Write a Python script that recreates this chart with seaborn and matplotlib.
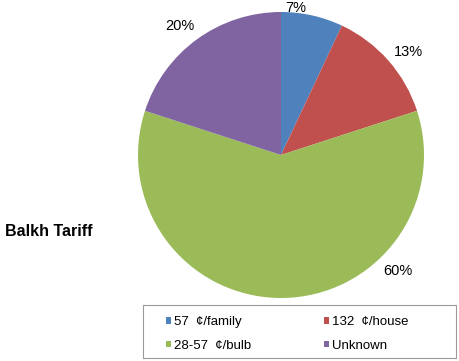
import matplotlib
matplotlib.use("Agg")
import matplotlib.pyplot as plt
from matplotlib.patches import Rectangle
import seaborn as sns

categories = ["57  \u00a2/family", "132  \u00a2/house", "28-57  \u00a2/bulb", "Unknown"]
values = [7, 13, 60, 20]
colors = ["#4F81BD", "#C0504D", "#9BBB59", "#8064A2"]
label_pos = [(0.105, 1.03), (0.89, 0.72), (0.82, -0.81), (-0.71, 0.90)]

sns.set_theme(style="white")
plt.rcParams["font.family"] = ["Liberation Sans", "DejaVu Sans"]
plt.rcParams["text.color"] = "black"

fig = plt.figure(figsize=(4.59, 3.61), dpi=100)
ax = fig.add_axes([138/459, (361-298)/361, 286/459, 286/361])
wedges, texts, autotexts = ax.pie(values, colors=colors, startangle=90, counterclock=False,
                                  autopct="%d%%", pctdistance=1.1, radius=1,
                                  wedgeprops=dict(linewidth=0))
for t, p in zip(autotexts, label_pos):
    t.set_position(p)
    t.set_fontsize(10.5)
    t.set_color("black")
ax.set_xlim(-1, 1)
ax.set_ylim(-1, 1)
ax.set_aspect("equal")
ax.axis("off")

fig.text(5/459, 1 - 232/361, "Balkh Tariff", fontsize=11.5, fontweight="bold",
         va="center", ha="left", color="black")

# legend frame
fig.patches.append(Rectangle((143/459, 1 - 358/361), 313/459, 53/361,
                             transform=fig.transFigure, fill=False,
                             edgecolor="#999999", linewidth=0.8))

order = [0, 2, 1, 3]
leg = fig.legend([wedges[i] for i in order], [categories[i] for i in order],
                 ncol=2, loc="upper left", bbox_to_anchor=(166/459, 1 - 316/361),
                 fontsize=9.5, frameon=False,
                 handlelength=0.4, handleheight=0.4, handletextpad=0.2,
                 borderaxespad=0, borderpad=0, labelspacing=0.9, columnspacing=5.5)

fig.savefig("out.png", dpi=100, facecolor="white")
